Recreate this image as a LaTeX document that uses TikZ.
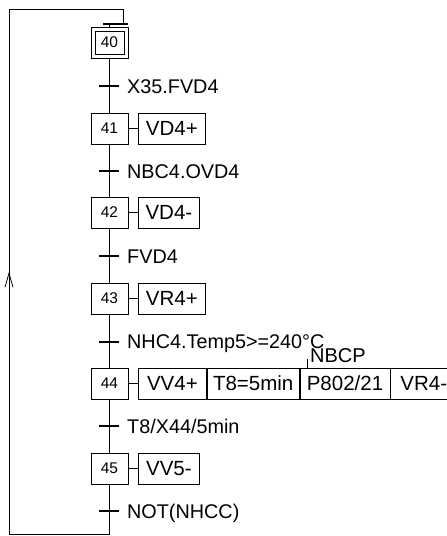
\documentclass[tikz,border=0pt]{standalone}
\usepackage{fontspec}
\setmainfont{Liberation Sans}
\usetikzlibrary{decorations.markings,arrows.meta}
\begin{document}
\begin{tikzpicture}[x=1pt,y=-1pt,
  stepbox/.style={draw,line width=0.8pt,minimum width=37pt,minimum height=31pt,inner sep=0pt,font=\fontsize{15.5}{17}\selectfont},
  innerbox/.style={draw,line width=0.8pt,minimum width=29pt,minimum height=23pt,inner sep=0pt},
  actbox/.style={draw,line width=0.8pt,minimum height=31pt,inner sep=0pt,anchor=west,font=\fontsize{20.5}{24}\selectfont},
  trbar/.style={fill=black,minimum width=20pt,minimum height=2.2pt,inner sep=0pt},
  joinbar/.style={fill=black,minimum width=25pt,minimum height=1.5pt,inner sep=0pt},
  trlabel/.style={anchor=west,inner sep=0pt,text height=14pt,text depth=0pt,font=\fontsize{19.8}{22}\selectfont},
  link/.style={line width=0.8pt}]
\useasboundingbox (0,0) rectangle (447,536);

% steps
\node[stepbox] (s40) at (109.5,42.5) {40};
\node[innerbox] (s40in) at (109.5,42.5) {};
\node[stepbox] (s41) at (109.5,128.5) {41};
\node[stepbox] (s42) at (109.5,212.5) {42};
\node[stepbox] (s43) at (109.5,298.5) {43};
\node[stepbox] (s44) at (109.5,383.5) {44};
\node[stepbox] (s45) at (109.5,468.5) {45};

% actions
\node[actbox,minimum width=67pt] (a41) at (138,128.5) {VD4+};
\node[actbox,minimum width=61pt] (a42) at (138,212.5) {VD4-};
\node[actbox,minimum width=67pt] (a43) at (138,298.5) {VR4+};
\node[actbox,minimum width=68pt] (a44a) at (138,383.5) {VV4+};
\node[actbox,minimum width=92pt] (a44b) at (a44a.east) {T8=5min};
\node[actbox,minimum width=90pt] (a44c) at (a44b.east) {P802/21};
\node[actbox,minimum width=66pt] (a44d) at (a44c.east) {VR4-};
\node[actbox,minimum width=61pt] (a45) at (138,468.5) {VV5-};

\foreach \s/\a in {s41/a41,s42/a42,s43/a43,s44/a44a,s45/a45}
  \draw[link] (\s.east) -- (\a.west);

% transitions
\node[trbar] (t1) at (109,86) {};
\node[trbar] (t2) at (109,171) {};
\node[trbar] (t3) at (109,256) {};
\node[trbar] (t4) at (109,342) {};
\node[trbar] (t5) at (109,426) {};
\node[trbar] (t6) at (109,511) {};

\node[trlabel] (l1) at (127,86) {X35.FVD4};
\node[trlabel] (l2) at (127,171) {NBC4.OVD4};
\node[trlabel] (l3) at (127,256) {FVD4};
\node[trlabel] (l4) at (127,341) {NHC4.Temp5>=240°C};
\node[trlabel] (l5) at (127,426) {T8/X44/5min};
\node[trlabel] (l6) at (127,511) {NOT(NHCC)};

% NBCP
\node[trlabel,font=\fontsize{20}{22}\selectfont] (nbcp) at (310,355) {NBCP};
\draw[link] ([xshift=8pt]a44c.north west) -- ++(0,-9);

% main line
\draw[link] (s40.south) -- (s41.north);
\draw[link] (s41.south) -- (s42.north);
\draw[link] (s42.south) -- (s43.north);
\draw[link] (s43.south) -- (s44.north);
\draw[link] (s44.south) -- (s45.north);

% loop back
\node[joinbar] (jbar) at (115.5,24) {};
\draw[link] (s40.north) -- (s40.north |- jbar.south);
\coordinate (cbl) at (9,534);
\coordinate (ctl) at (9,9.5);
\coordinate (ctr) at (123,9.5);
\draw[link] (s45.south) -- (s45.south |- cbl) -- (cbl) -- (ctl) -- (ctr) -- (ctr |- jbar.north);
\path[decoration={markings,mark=at position 0.5 with {\arrow[line width=0.8pt]{Straight Barb[length=14pt,width=8pt]}}},postaction={decorate}] (cbl) -- (ctl);
\end{tikzpicture}
\end{document}
